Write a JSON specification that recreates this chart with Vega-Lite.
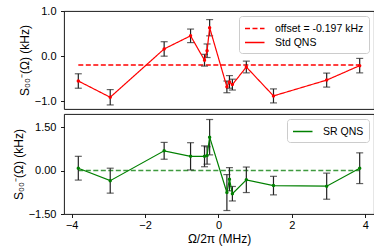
{
  "$schema": "https://vega.github.io/schema/vega-lite/v6.json",
  "padding": {"left": 11, "top": 4, "right": 4, "bottom": 2},
  "spacing": 5,
  "bounds": "flush",
  "config": {
    "font": "Liberation Sans",
    "view": {"stroke": "black", "strokeWidth": 0.9},
    "axis": {"domain": false, "grid": false, "ticks": true, "tickColor": "black", "tickSize": 3.5, "tickWidth": 0.9, "labelFontSize": 11, "labelColor": "black", "titleFontSize": 12, "titleFontWeight": "normal", "titleColor": "black", "labelPadding": 4.5, "titlePadding": 3, "labelFont": "Liberation Sans", "titleFont": "Liberation Sans"},
    "axisX": {"titlePadding": 3, "labelPadding": 2},
    "legend": {"orient": "top-right", "offset": 5, "padding": 5, "strokeColor": "#cccccc", "fillColor": "rgba(255,255,255,0.85)", "cornerRadius": 3, "labelFontSize": 10.5, "labelColor": "black", "labelFont": "Liberation Sans", "symbolStrokeWidth": 1.5, "rowPadding": 1}
  },
  "datasets": {
    "std": [
      {"x": -3.82, "y": -0.55, "err": 0.16, "s": "Std QNS"},
      {"x": -2.95, "y": -0.91, "err": 0.17, "s": "Std QNS"},
      {"x": -1.48, "y": 0.16, "err": 0.16, "s": "Std QNS"},
      {"x": -0.76, "y": 0.45, "err": 0.15, "s": "Std QNS"},
      {"x": -0.38, "y": -0.09, "err": 0.13, "s": "Std QNS"},
      {"x": -0.31, "y": 0.12, "err": 0.15, "s": "Std QNS"},
      {"x": -0.24, "y": 0.63, "err": 0.18, "s": "Std QNS"},
      {"x": 0.23, "y": -0.68, "err": 0.13, "s": "Std QNS"},
      {"x": 0.30, "y": -0.57, "err": 0.14, "s": "Std QNS"},
      {"x": 0.38, "y": -0.63, "err": 0.12, "s": "Std QNS"},
      {"x": 0.76, "y": -0.24, "err": 0.13, "s": "Std QNS"},
      {"x": 1.50, "y": -0.88, "err": 0.155, "s": "Std QNS"},
      {"x": 2.95, "y": -0.53, "err": 0.155, "s": "Std QNS"},
      {"x": 3.85, "y": -0.21, "err": 0.16, "s": "Std QNS"}
    ],
    "sr": [
      {"x": -3.82, "y": 0.08, "err": 0.41, "s": "SR QNS"},
      {"x": -2.95, "y": -0.35, "err": 0.43, "s": "SR QNS"},
      {"x": -1.48, "y": 0.68, "err": 0.29, "s": "SR QNS"},
      {"x": -0.76, "y": 0.49, "err": 0.47, "s": "SR QNS"},
      {"x": -0.38, "y": 0.49, "err": 0.36, "s": "SR QNS"},
      {"x": -0.31, "y": 0.52, "err": 0.30, "s": "SR QNS"},
      {"x": -0.24, "y": 1.15, "err": 0.61, "s": "SR QNS"},
      {"x": 0.23, "y": -0.76, "err": 0.62, "s": "SR QNS"},
      {"x": 0.30, "y": -0.30, "err": 0.40, "s": "SR QNS"},
      {"x": 0.38, "y": -0.80, "err": 0.25, "s": "SR QNS"},
      {"x": 0.76, "y": -0.32, "err": 0.44, "s": "SR QNS"},
      {"x": 1.50, "y": -0.52, "err": 0.32, "s": "SR QNS"},
      {"x": 2.95, "y": -0.54, "err": 0.45, "s": "SR QNS"},
      {"x": 3.85, "y": 0.08, "err": 0.53, "s": "SR QNS"}
    ],
    "offset_top": [
      {"x": -3.82, "y": -0.197, "s": "offset = -0.197 kHz"},
      {"x": 3.85, "y": -0.197, "s": "offset = -0.197 kHz"}
    ],
    "offset_bottom": [
      {"x": -3.82, "y": 0},
      {"x": 3.85, "y": 0}
    ]
  },
  "resolve": {
    "scale": {"color": "independent", "strokeDash": "independent", "x": "independent", "y": "independent"},
    "legend": {"color": "independent", "strokeDash": "independent"}
  },
  "vconcat": [
    {
      "width": 310,
      "height": 98,
      "layer": [
        {
          "data": {"name": "offset_top"},
          "mark": {"type": "line", "strokeWidth": 1.4},
          "encoding": {
            "x": {"field": "x", "type": "quantitative", "scale": {"domain": [-4.21, 4.24], "nice": false, "zero": false}, "axis": null},
            "y": {"field": "y", "type": "quantitative", "title": "S₀₀⁻(Ω) (kHz)", "scale": {"domain": [-1.17, 1.0], "nice": false, "zero": false}, "axis": {"values": [-1, -0.5, 0, 0.5, 1], "format": ".1f"}},
            "color": {"field": "s", "type": "nominal", "scale": {"domain": ["offset = -0.197 kHz", "Std QNS"], "range": ["#ff0000", "#ff0000"]}, "legend": {"title": null, "symbolType": "M-1,0H2", "symbolSize": 169, "labelOffset": 16}},
            "strokeDash": {"field": "s", "type": "nominal", "scale": {"domain": ["offset = -0.197 kHz", "Std QNS"], "range": [[5, 2.5], [1, 0]]}, "legend": {"title": null, "symbolType": "M-1,0H2", "symbolSize": 169, "labelOffset": 16}}
          }
        },
        {
          "data": {"name": "std"},
          "mark": {"type": "errorbar", "ticks": {"size": 7}, "color": "#222222", "thickness": 1.2},
          "encoding": {
            "x": {"field": "x", "type": "quantitative"},
            "y": {"field": "y", "type": "quantitative", "title": "S₀₀⁻(Ω) (kHz)"},
            "yError": {"field": "err"}
          }
        },
        {
          "data": {"name": "std"},
          "mark": {"type": "line", "strokeWidth": 1.2, "point": {"size": 12, "filled": true}},
          "encoding": {
            "x": {"field": "x", "type": "quantitative"},
            "y": {"field": "y", "type": "quantitative", "title": "S₀₀⁻(Ω) (kHz)"},
            "color": {"field": "s", "type": "nominal"},
            "strokeDash": {"field": "s", "type": "nominal"}
          }
        }
      ]
    },
    {
      "width": 310,
      "height": 100,
      "layer": [
        {
          "data": {"name": "offset_bottom"},
          "mark": {"type": "line", "strokeWidth": 1.4, "color": "#3f9a3f", "strokeDash": [5, 2.5]},
          "encoding": {
            "x": {"field": "x", "type": "quantitative", "title": "Ω/2π (MHz)", "scale": {"domain": [-4.21, 4.24], "nice": false, "zero": false}, "axis": {"values": [-4, -2, 0, 2, 4], "format": "d"}},
            "y": {"field": "y", "type": "quantitative", "title": "S₀₀⁻(Ω) (kHz)", "scale": {"domain": [-1.5, 1.95], "nice": false, "zero": false}, "axis": {"values": [-1.5, -0.75, 0, 0.75, 1.5], "format": ".2f"}}
          }
        },
        {
          "data": {"name": "sr"},
          "mark": {"type": "errorbar", "ticks": {"size": 7}, "color": "#222222", "thickness": 1.2},
          "encoding": {
            "x": {"field": "x", "type": "quantitative", "title": "Ω/2π (MHz)"},
            "y": {"field": "y", "type": "quantitative", "title": "S₀₀⁻(Ω) (kHz)"},
            "yError": {"field": "err"}
          }
        },
        {
          "data": {"name": "sr"},
          "mark": {"type": "line", "strokeWidth": 1.2, "point": {"size": 12, "filled": true}},
          "encoding": {
            "x": {"field": "x", "type": "quantitative", "title": "Ω/2π (MHz)"},
            "y": {"field": "y", "type": "quantitative", "title": "S₀₀⁻(Ω) (kHz)"},
            "color": {"field": "s", "type": "nominal", "scale": {"domain": ["SR QNS"], "range": ["#008000"]}, "legend": {"title": null, "symbolType": "M-1,0H2", "symbolSize": 169, "labelOffset": 16}}
          }
        }
      ]
    }
  ]
}
